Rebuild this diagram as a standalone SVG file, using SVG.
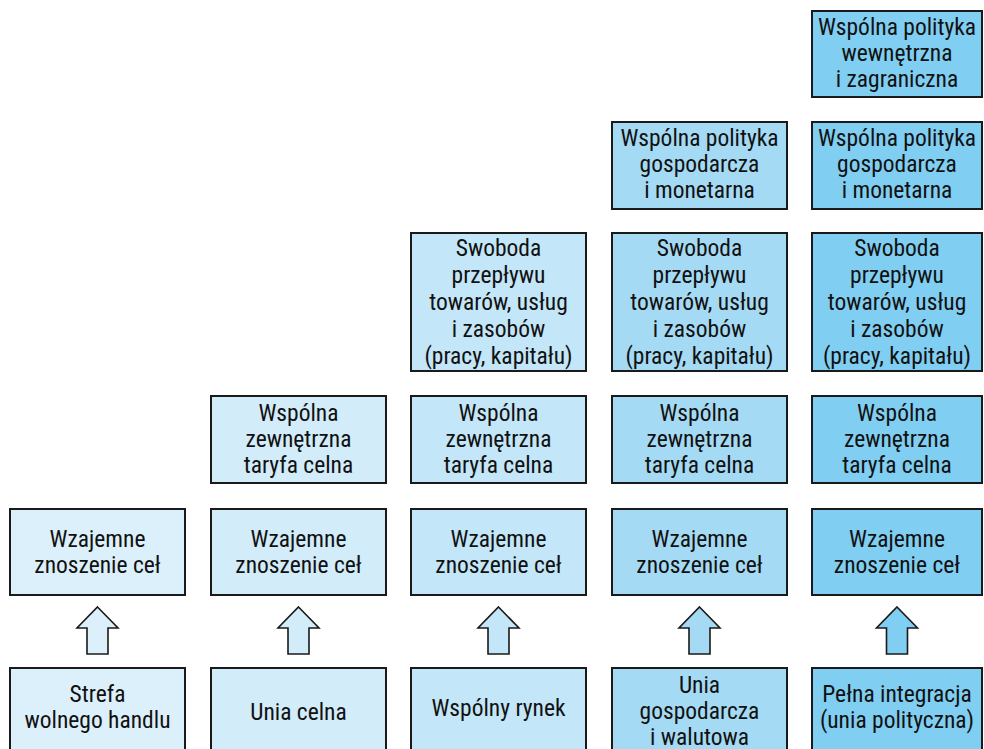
<svg xmlns="http://www.w3.org/2000/svg" width="984" height="749" viewBox="0 0 984 749">
<style>
.b{stroke:#1a1a1a;stroke-width:2}
.a{stroke:#1a1a1a;stroke-width:1.6;stroke-linejoin:miter}
.c1{fill:#dcf0fc}.c2{fill:#d2ecfa}.c3{fill:#c3e6f8}.c4{fill:#a5daf4}.c5{fill:#80cef1}
text{font-family:"Roboto Condensed","Liberation Sans Narrow","DejaVu Sans Condensed",Roboto,sans-serif;font-stretch:condensed;font-size:23.5px;fill:#111111;text-anchor:middle}
</style>
<rect width="984" height="749" fill="#ffffff"/>
<g id="connectors">
<path class="a c1" d="M97.5,607 L118,628 L108,628 L108,654 L87,654 L87,628 L77,628 Z"/>
<path class="a c2" d="M298.5,607 L319,628 L309,628 L309,654 L288,654 L288,628 L278,628 Z"/>
<path class="a c3" d="M498.5,607 L519,628 L509,628 L509,654 L488,654 L488,628 L478,628 Z"/>
<path class="a c4" d="M699.5,607 L720,628 L710,628 L710,654 L689,654 L689,628 L679,628 Z"/>
<path class="a c5" d="M897,607 L917.5,628 L907.5,628 L907.5,654 L886.5,654 L886.5,628 L876.5,628 Z"/>
</g>
<!-- column 1 -->
<g id="c1-bottom"><rect class="b c1" x="10" y="668" width="175" height="95"/><text x="97.5" y="702">Strefa</text><text x="97.5" y="728">wolnego handlu</text></g>
<g id="c1-r5"><rect class="b c1" x="10" y="509" width="175" height="86"/><text x="97.5" y="547">Wzajemne</text><text x="97.5" y="573">znoszenie ceł</text></g>
<!-- column 2 -->
<g id="c2-bottom"><rect class="b c2" x="211" y="668" width="175" height="95"/><text x="298.5" y="720">Unia celna</text></g>
<g id="c2-r5"><rect class="b c2" x="211" y="509" width="175" height="86"/><text x="298.5" y="547">Wzajemne</text><text x="298.5" y="573">znoszenie ceł</text></g>
<g id="c2-r4"><rect class="b c2" x="211" y="396" width="175" height="87"/><text x="298.5" y="421">Wspólna</text><text x="298.5" y="447">zewnętrzna</text><text x="298.5" y="473">taryfa celna</text></g>
<!-- column 3 -->
<g id="c3-bottom"><rect class="b c3" x="411" y="668" width="175" height="95"/><text x="498.5" y="716">Wspólny rynek</text></g>
<g id="c3-r5"><rect class="b c3" x="411" y="509" width="175" height="86"/><text x="498.5" y="547">Wzajemne</text><text x="498.5" y="573">znoszenie ceł</text></g>
<g id="c3-r4"><rect class="b c3" x="411" y="396" width="175" height="87"/><text x="498.5" y="421">Wspólna</text><text x="498.5" y="447">zewnętrzna</text><text x="498.5" y="473">taryfa celna</text></g>
<g id="c3-r3"><rect class="b c3" x="411" y="233" width="175" height="138"/><text x="498.5" y="256">Swoboda</text><text x="498.5" y="283">przepływu</text><text x="498.5" y="310">towarów, usług</text><text x="498.5" y="337">i zasobów</text><text x="498.5" y="364">(pracy, kapitału)</text></g>
<!-- column 4 -->
<g id="c4-bottom"><rect class="b c4" x="612" y="668" width="175" height="95"/><text x="699.5" y="693">Unia</text><text x="699.5" y="719">gospodarcza</text><text x="699.5" y="745">i walutowa</text></g>
<g id="c4-r5"><rect class="b c4" x="612" y="509" width="175" height="86"/><text x="699.5" y="547">Wzajemne</text><text x="699.5" y="573">znoszenie ceł</text></g>
<g id="c4-r4"><rect class="b c4" x="612" y="396" width="175" height="87"/><text x="699.5" y="421">Wspólna</text><text x="699.5" y="447">zewnętrzna</text><text x="699.5" y="473">taryfa celna</text></g>
<g id="c4-r3"><rect class="b c4" x="612" y="233" width="175" height="138"/><text x="699.5" y="256">Swoboda</text><text x="699.5" y="283">przepływu</text><text x="699.5" y="310">towarów, usług</text><text x="699.5" y="337">i zasobów</text><text x="699.5" y="364">(pracy, kapitału)</text></g>
<g id="c4-r2"><rect class="b c4" x="612" y="122" width="175" height="87"/><text x="699.5" y="146">Wspólna polityka</text><text x="699.5" y="172">gospodarcza</text><text x="699.5" y="198">i monetarna</text></g>
<!-- column 5 -->
<g id="c5-bottom"><rect class="b c5" x="812" y="668" width="170" height="95"/><text x="897" y="702">Pełna integracja</text><text x="897" y="728">(unia polityczna)</text></g>
<g id="c5-r5"><rect class="b c5" x="812" y="509" width="170" height="86"/><text x="897" y="547">Wzajemne</text><text x="897" y="573">znoszenie ceł</text></g>
<g id="c5-r4"><rect class="b c5" x="812" y="396" width="170" height="87"/><text x="897" y="421">Wspólna</text><text x="897" y="447">zewnętrzna</text><text x="897" y="473">taryfa celna</text></g>
<g id="c5-r3"><rect class="b c5" x="812" y="233" width="170" height="138"/><text x="897" y="256">Swoboda</text><text x="897" y="283">przepływu</text><text x="897" y="310">towarów, usług</text><text x="897" y="337">i zasobów</text><text x="897" y="364">(pracy, kapitału)</text></g>
<g id="c5-r2"><rect class="b c5" x="812" y="122" width="170" height="87"/><text x="897" y="146">Wspólna polityka</text><text x="897" y="172">gospodarcza</text><text x="897" y="198">i monetarna</text></g>
<g id="c5-r1"><rect class="b c5" x="812" y="11" width="170" height="86"/><text x="897" y="35">Wspólna polityka</text><text x="897" y="61">wewnętrzna</text><text x="897" y="87">i zagraniczna</text></g>
</svg>
